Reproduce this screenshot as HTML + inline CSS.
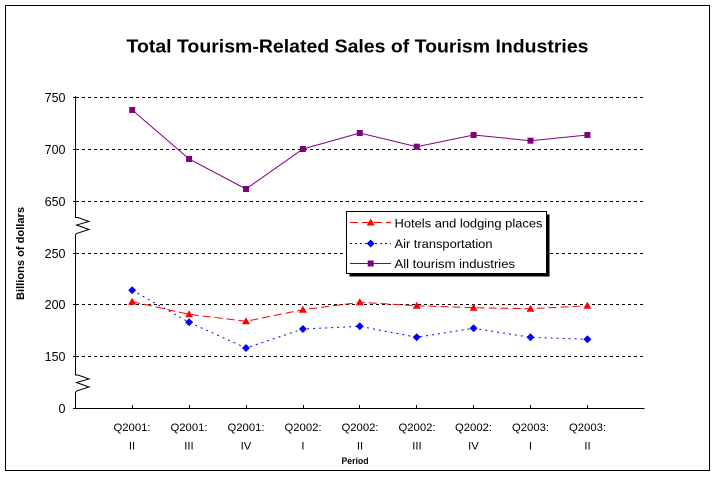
<!DOCTYPE html>
<html>
<head>
<meta charset="utf-8">
<style>
html,body{margin:0;padding:0;background:#fff;}
svg{display:block;}
text{font-family:"Liberation Sans",Arial,sans-serif;fill:#000;}
</style>
</head>
<body>
<svg width="715" height="477" viewBox="0 0 715 477" xmlns="http://www.w3.org/2000/svg">
<rect x="0" y="0" width="715" height="477" fill="#fff"/>
<rect x="5.5" y="5.5" width="704" height="465" fill="none" stroke="#000" stroke-width="1"/>

<text x="357.5" y="52.5" font-size="18" font-weight="bold" text-anchor="middle" textLength="462" lengthAdjust="spacingAndGlyphs">Total Tourism-Related Sales of Tourism Industries</text>

<!-- gridlines -->
<g stroke="#000" stroke-width="1" stroke-dasharray="3,3">
<line x1="76" y1="97.5" x2="644" y2="97.5"/>
<line x1="76" y1="149.5" x2="644" y2="149.5"/>
<line x1="76" y1="201.5" x2="644" y2="201.5"/>
<line x1="76" y1="253.5" x2="644" y2="253.5"/>
<line x1="76" y1="304.5" x2="644" y2="304.5"/>
<line x1="76" y1="356.5" x2="644" y2="356.5"/>
</g>

<!-- y axis with breaks -->
<path d="M75.5,96 V217.5 H78 L89,221.5 L76.5,225 L89,229.5 L76.5,233.5 L75.5,235 V375 H78 L89,379 L76.5,382.5 L89,387 L76.5,391 L75.5,392.5 V408.5" fill="none" stroke="#000" stroke-width="1"/>
<g stroke="#000" stroke-width="1">
<line x1="73" y1="97.5" x2="76" y2="97.5"/>
<line x1="73" y1="149.5" x2="76" y2="149.5"/>
<line x1="73" y1="201.5" x2="76" y2="201.5"/>
<line x1="73" y1="253.5" x2="76" y2="253.5"/>
<line x1="73" y1="304.5" x2="76" y2="304.5"/>
<line x1="73" y1="356.5" x2="76" y2="356.5"/>
<line x1="73" y1="408.5" x2="76" y2="408.5"/>
</g>
<!-- x axis -->
<line x1="75" y1="408.5" x2="644.5" y2="408.5" stroke="#000" stroke-width="1"/>
<g stroke="#000" stroke-width="1">
<line x1="132.5" y1="405" x2="132.5" y2="408"/>
<line x1="189.5" y1="405" x2="189.5" y2="408"/>
<line x1="246.5" y1="405" x2="246.5" y2="408"/>
<line x1="303.5" y1="405" x2="303.5" y2="408"/>
<line x1="359.5" y1="405" x2="359.5" y2="408"/>
<line x1="416.5" y1="405" x2="416.5" y2="408"/>
<line x1="473.5" y1="405" x2="473.5" y2="408"/>
<line x1="530.5" y1="405" x2="530.5" y2="408"/>
<line x1="587.5" y1="405" x2="587.5" y2="408"/>
</g>

<!-- y labels -->
<g font-size="12.5" text-anchor="end">
<text x="65.5" y="101.8">750</text>
<text x="65.5" y="153.8">700</text>
<text x="65.5" y="205.8">650</text>
<text x="65.5" y="257.8">250</text>
<text x="65.5" y="308.8">200</text>
<text x="65.5" y="360.8">150</text>
<text x="65.5" y="412.8">0</text>
</g>
<text transform="translate(24,253.5) rotate(-90)" font-size="11" font-weight="bold" text-anchor="middle" textLength="93" lengthAdjust="spacingAndGlyphs">Billions of dollars</text>

<!-- x labels -->
<g font-size="11.3" text-anchor="middle">
<text x="132" y="430.8">Q2001:</text>
<text x="189" y="430.8">Q2001:</text>
<text x="246" y="430.8">Q2001:</text>
<text x="303" y="430.8">Q2002:</text>
<text x="360" y="430.8">Q2002:</text>
<text x="417" y="430.8">Q2002:</text>
<text x="473.5" y="430.8">Q2002:</text>
<text x="530.5" y="430.8">Q2003:</text>
<text x="587.5" y="430.8">Q2003:</text>
<text x="132" y="449.5">II</text>
<text x="189" y="449.5">III</text>
<text x="246" y="449.5">IV</text>
<text x="303" y="449.5">I</text>
<text x="360" y="449.5">II</text>
<text x="417" y="449.5">III</text>
<text x="473.5" y="449.5">IV</text>
<text x="530.5" y="449.5">I</text>
<text x="587.5" y="449.5">II</text>
</g>
<text x="355" y="464.2" font-size="9.5" font-weight="bold" text-anchor="middle" textLength="27" lengthAdjust="spacingAndGlyphs">Period</text>

<!-- All tourism -->
<polyline fill="none" stroke="#800080" stroke-width="1" points="132.2,110 189.1,159 246,189 302.9,149 359.8,133 416.7,146.7 473.6,135 530.5,140.7 587.4,135"/>
<g fill="#800080">
<rect x="129.2" y="107" width="6" height="6"/>
<rect x="186.1" y="156" width="6" height="6"/>
<rect x="243" y="186" width="6" height="6"/>
<rect x="299.9" y="146" width="6" height="6"/>
<rect x="356.8" y="130" width="6" height="6"/>
<rect x="413.7" y="143.7" width="6" height="6"/>
<rect x="470.6" y="132" width="6" height="6"/>
<rect x="527.5" y="137.7" width="6" height="6"/>
<rect x="584.4" y="132" width="6" height="6"/>
</g>

<!-- Hotels -->
<polyline fill="none" stroke="#ff0000" stroke-width="1" stroke-dasharray="8,4" points="132.2,301.7 189.1,314.3 246,321.3 302.9,309.7 359.8,302.3 416.7,305.7 473.6,307.7 530.5,308.7 587.4,305.7"/>
<g fill="#ff0000">
<path d="M132.2,297.7 L136.2,304.7 L128.2,304.7 Z"/>
<path d="M189.1,310.3 L193.1,317.3 L185.1,317.3 Z"/>
<path d="M246,317.3 L250,324.3 L242,324.3 Z"/>
<path d="M302.9,305.7 L306.9,312.7 L298.9,312.7 Z"/>
<path d="M359.8,298.3 L363.8,305.3 L355.8,305.3 Z"/>
<path d="M416.7,301.7 L420.7,308.7 L412.7,308.7 Z"/>
<path d="M473.6,303.7 L477.6,310.7 L469.6,310.7 Z"/>
<path d="M530.5,304.7 L534.5,311.7 L526.5,311.7 Z"/>
<path d="M587.4,301.7 L591.4,308.7 L583.4,308.7 Z"/>
</g>

<!-- Air -->
<polyline fill="none" stroke="#0000ff" stroke-width="1" stroke-dasharray="2,4" points="132.2,290.3 189.1,322.3 246,348 302.9,329 359.8,326.3 416.7,337.3 473.6,328.3 530.5,337.3 587.4,339.3"/>
<g fill="#0000ff">
<path d="M132.2,286.3 L136.2,290.3 L132.2,294.3 L128.2,290.3 Z"/>
<path d="M189.1,318.3 L193.1,322.3 L189.1,326.3 L185.1,322.3 Z"/>
<path d="M246,344 L250,348 L246,352 L242,348 Z"/>
<path d="M302.9,325 L306.9,329 L302.9,333 L298.9,329 Z"/>
<path d="M359.8,322.3 L363.8,326.3 L359.8,330.3 L355.8,326.3 Z"/>
<path d="M416.7,333.3 L420.7,337.3 L416.7,341.3 L412.7,337.3 Z"/>
<path d="M473.6,324.3 L477.6,328.3 L473.6,332.3 L469.6,328.3 Z"/>
<path d="M530.5,333.3 L534.5,337.3 L530.5,341.3 L526.5,337.3 Z"/>
<path d="M587.4,335.3 L591.4,339.3 L587.4,343.3 L583.4,339.3 Z"/>
</g>

<!-- Legend -->
<rect x="349.5" y="214.5" width="200" height="62" fill="#000"/>
<rect x="346.5" y="211.5" width="200" height="62" fill="#fff" stroke="#000" stroke-width="1"/>
<line x1="350" y1="222.5" x2="391" y2="222.5" stroke="#ff0000" stroke-width="1" stroke-dasharray="8,4"/>
<path d="M370.7,218.5 L374.7,225.5 L366.7,225.5 Z" fill="#ff0000"/>
<line x1="350" y1="243.5" x2="391" y2="243.5" stroke="#0000ff" stroke-width="1" stroke-dasharray="2,3"/>
<path d="M370.7,239.5 L374.7,243.5 L370.7,247.5 L366.7,243.5 Z" fill="#0000ff"/>
<line x1="350" y1="263.5" x2="391" y2="263.5" stroke="#800080" stroke-width="1"/>
<rect x="367.7" y="260.5" width="6" height="6" fill="#800080"/>
<g font-size="12.3">
<text x="394.5" y="227.3" textLength="148" lengthAdjust="spacingAndGlyphs">Hotels and lodging places</text>
<text x="394.5" y="247.8" textLength="98" lengthAdjust="spacingAndGlyphs">Air transportation</text>
<text x="394.5" y="267.8" textLength="120.5" lengthAdjust="spacingAndGlyphs">All tourism industries</text>
</g>
</svg>
</body>
</html>
